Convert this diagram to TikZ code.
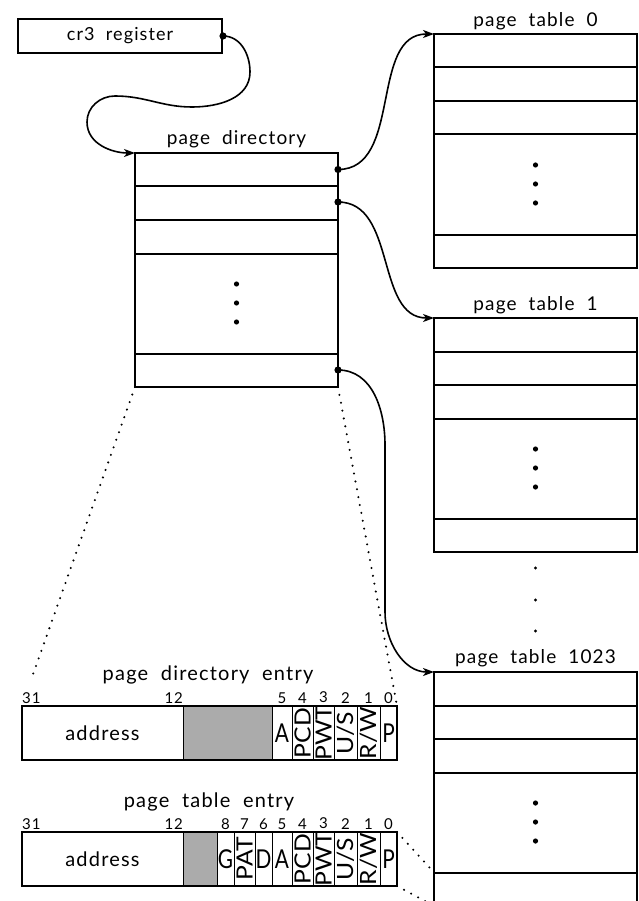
\documentclass[tikz,border=0pt]{standalone}
\usepackage{fontspec}
\setmainfont[LetterSpace=6,WordSpace=2]{Lato}
\newfontfamily\fieldfont{Lato}
\usetikzlibrary{arrows.meta,positioning}

\newcommand\upfield[1]{\scalebox{0.8}[1]{#1}}
\newcommand\sidefield[1]{\rotatebox{90}{\scalebox{0.95}[0.86]{#1}}}

\tikzset{
  tbl/.style={draw, line width=2pt, minimum width=203pt, minimum height=234pt,
    anchor=north west, inner sep=0pt, outer sep=0pt},
  lbl/.style={font=\fontsize{19}{21}\selectfont, inner sep=0pt, anchor=base},
  ptr/.style={line width=1.6pt, -{Stealth[length=11pt,width=8pt,inset=3pt]}},
  zoomline/.style={line width=2.3pt, line cap=round, dash pattern=on 0pt off 8pt},
  field/.style={draw, line width=1pt, minimum height=54pt, inner sep=0pt,
    outer sep=0pt, font=\fieldfont\fontsize{26}{28}\selectfont},
  bitno/.style={font=\fontsize{15}{16}\selectfont, inner sep=0pt, anchor=base},
}

\begin{document}
\begin{tikzpicture}[x=1pt,y=1pt]
  \useasboundingbox (0,0) rectangle (638,-901);

  % register and tables
  \node[draw, line width=2pt, minimum width=204pt, minimum height=34pt,
    anchor=north west, inner sep=0pt, font=\fontsize{18}{20}\selectfont]
    (cr3) at (17,-18) {cr3 register};
  \node[tbl] (pd) at (135,-153) {};
  \node[tbl] (pt0) at (434,-34) {};
  \node[tbl] (pt1) at (434,-318) {};
  \node[tbl] (pt1023) at (434,-672) {};

  % rows and dots
  \foreach \tb in {pd,pt0,pt1,pt1023}{
    \foreach \r in {33.5,67,100.5,200.5}
      \draw[line width=2pt] ([yshift=-\r pt]\tb.north west) -- ([yshift=-\r pt]\tb.north east);
    \foreach \d in {131,150,169}
      \fill ([yshift=-\d pt]\tb.north) circle (2.6pt);
  }

  % titles
  \node[lbl] (pd-title) at ([yshift=8pt]pd.north) {page directory};
  \node[lbl] (pt0-title) at ([yshift=7pt]pt0.north) {page table 0};
  \node[lbl] (pt1-title) at ([yshift=8pt]pt1.north) {page table 1};
  \node[lbl] (pt1023-title) at ([yshift=9pt]pt1023.north) {page table 1023};

  % more tables
  \foreach \d in {16,48,79}
    \fill ([yshift=-\d pt]pt1.south) circle (1.6pt);

  % page directory entry
  \node[field, minimum width=161pt, anchor=north west, font=\fontsize{20}{22}\selectfont]
    (pde-addr) at (22,-706) {address};
  \node[field, fill=black!33, minimum width=89pt, right=0pt of pde-addr] (pde-avl) {};
  \node[field, minimum width=20pt, right=0pt of pde-avl] (pde-a) {\upfield{A}};
  \node[field, minimum width=21pt, right=0pt of pde-a] (pde-pcd) {\sidefield{PCD}};
  \node[field, minimum width=21pt, right=0pt of pde-pcd] (pde-pwt) {\sidefield{PWT}};
  \node[field, minimum width=23pt, right=0pt of pde-pwt] (pde-us) {\sidefield{U/S}};
  \node[field, minimum width=23pt, right=0pt of pde-us] (pde-rw) {\sidefield{R/W}};
  \node[field, minimum width=17pt, right=0pt of pde-rw] (pde-p) {\upfield{P}};
  \draw[line width=2.5pt] (pde-addr.north west) rectangle (pde-p.south east);

  \node[lbl, font=\fontsize{20}{22}\selectfont] (pde-title) at (208,-680) {page directory entry};
  \node[bitno, anchor=base west] (pde-b31) at ([yshift=3pt]pde-addr.north west) {31};
  \node[bitno, anchor=base east] (pde-b12) at ([yshift=3pt]pde-addr.north east) {12};
  \foreach \f/\b in {a/5,pcd/4,pwt/3,us/2,rw/1,p/0}
    \node[bitno] (pde-b\b) at ([yshift=3pt]pde-\f.north) {\b};

  % page table entry
  \node[field, minimum width=161pt, anchor=north west, font=\fontsize{20}{22}\selectfont]
    (pte-addr) at (22,-832) {address};
  \node[field, fill=black!33, minimum width=34pt, right=0pt of pte-addr] (pte-avl) {};
  \node[field, minimum width=17pt, right=0pt of pte-avl] (pte-g) {\upfield{G}};
  \node[field, minimum width=21pt, right=0pt of pte-g] (pte-pat) {\sidefield{PAT}};
  \node[field, minimum width=17pt, right=0pt of pte-pat] (pte-d) {\upfield{D}};
  \node[field, minimum width=20pt, right=0pt of pte-d] (pte-a) {\upfield{A}};
  \node[field, minimum width=21pt, right=0pt of pte-a] (pte-pcd) {\sidefield{PCD}};
  \node[field, minimum width=21pt, right=0pt of pte-pcd] (pte-pwt) {\sidefield{PWT}};
  \node[field, minimum width=23pt, right=0pt of pte-pwt] (pte-us) {\sidefield{U/S}};
  \node[field, minimum width=23pt, right=0pt of pte-us] (pte-rw) {\sidefield{R/W}};
  \node[field, minimum width=17pt, right=0pt of pte-rw] (pte-p) {\upfield{P}};
  \draw[line width=2.5pt] (pte-addr.north west) rectangle (pte-p.south east);

  \node[lbl, font=\fontsize{20}{22}\selectfont] (pte-title) at (209,-807) {page table entry};
  \node[bitno, anchor=base west] (pte-b31) at ([yshift=3pt]pte-addr.north west) {31};
  \node[bitno, anchor=base east] (pte-b12) at ([yshift=3pt]pte-addr.north east) {12};
  \foreach \f/\b in {g/8,pat/7,d/6,a/5,pcd/4,pwt/3,us/2,rw/1,p/0}
    \node[bitno] (pte-b\b) at ([yshift=3pt]pte-\f.north) {\b};

  % zoom lines
  \coordinate (pde-tip) at (31,-680);
  \draw[zoomline] (pd.south west) -- (pde-tip);
  \draw[zoomline] (pd.south east) -- (pde-p.north east);
  \draw[zoomline] (pte-p.north east) -- ([yshift=-200.5pt]pt1023.north west);
  \draw[zoomline] (pte-p.south east) -- (pt1023.south west);

  % pointers
  \coordinate (pd-e0) at ([yshift=-16.5pt]pd.north east);
  \coordinate (pd-e1) at ([yshift=-49pt]pd.north east);
  \coordinate (pd-e1023) at ([yshift=-217pt]pd.north east);
  \foreach \c in {cr3.east,pd-e0,pd-e1,pd-e1023}
    \fill (\c) circle (3.6pt);

  \draw[ptr] (cr3.east) to[out=0,in=90] (250,-72) to[out=-90,in=0] (192,-107)
    to[out=180,in=0] (115,-96) to[out=180,in=90] (87,-122) to[out=-90,in=180] (pd.north west);
  \draw[ptr] (pd-e0) to[out=0,in=180] (pt0.north west);
  \draw[ptr] (pd-e1) to[out=0,in=180] (pt1.north west);
  \draw[ptr] (pd-e1023) to[out=0,in=90] (385,-445) -- (385,-612)
    to[out=-90,in=180] (pt1023.north west);
\end{tikzpicture}
\end{document}
